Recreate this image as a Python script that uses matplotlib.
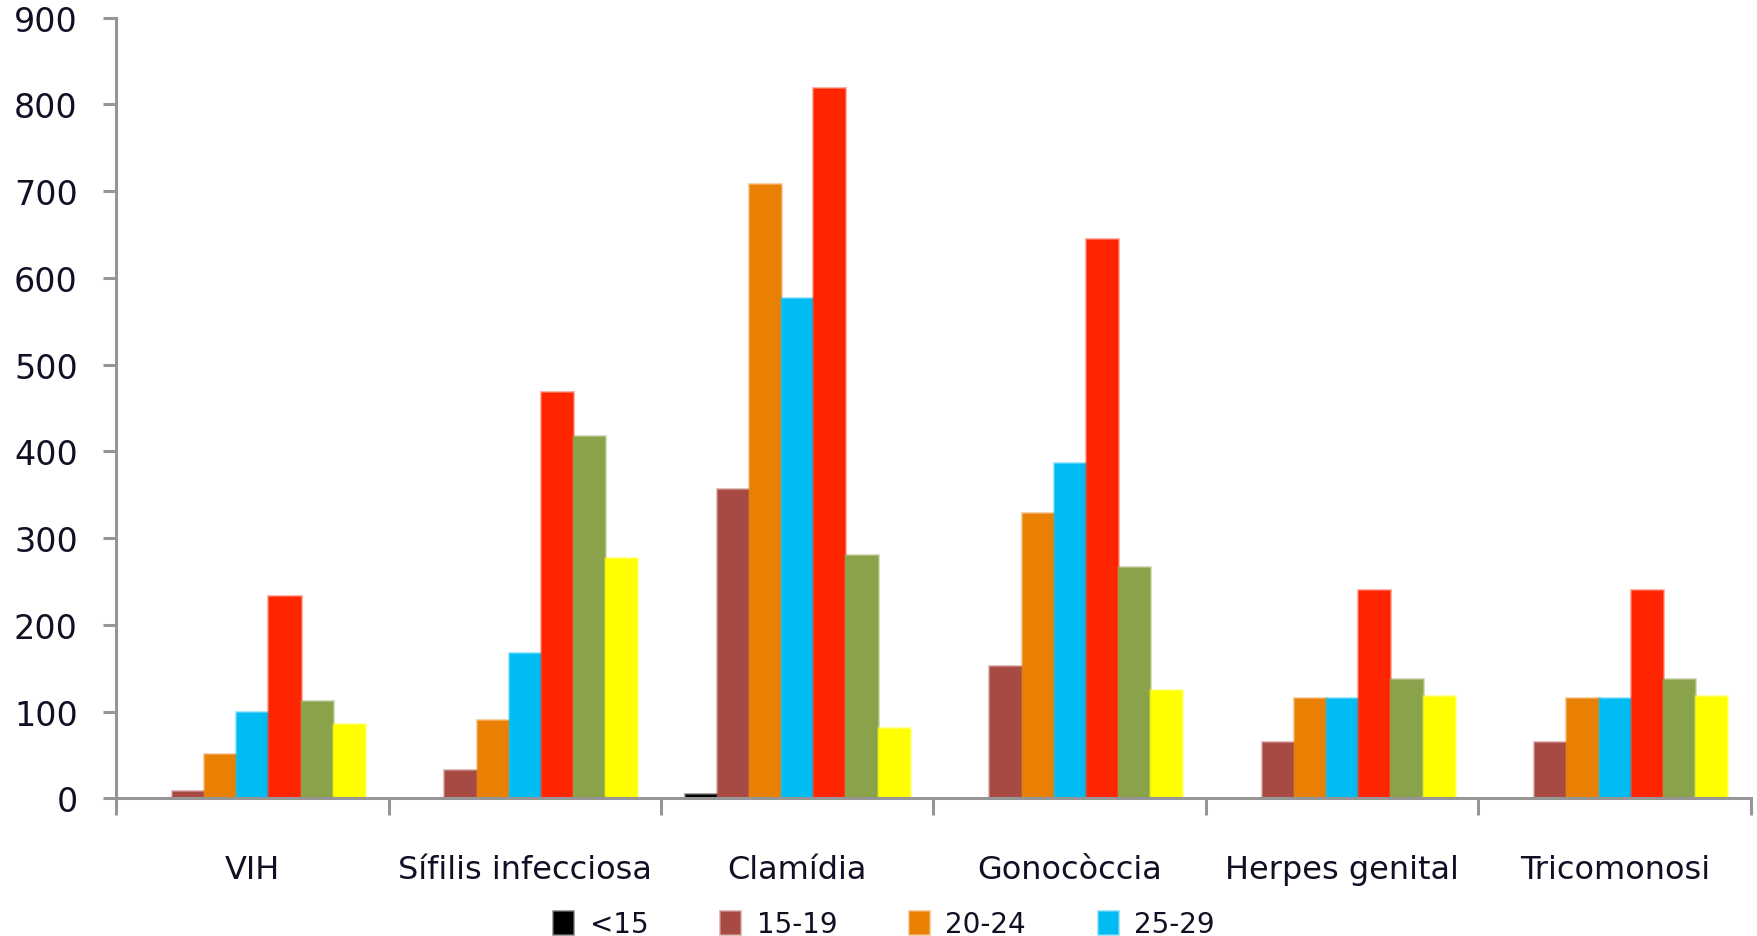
import numpy as np
import matplotlib.pyplot as plt
from matplotlib.colors import to_rgba

# Categories and age groups
malalties = ["VIH", "Sífilis infecciosa", "Clamídia", "Gonocòccia", "Herpes genital", "Tricomonosi"]
edats = ["<15", "15-19", "20-24", "25-29", "30-34", "35-39", "40+"]

# cases per age group (one list per age group, one value per disease)
menys15 = [0, 0, 5, 0, 0, 0]
e15_19 = [8, 33, 357, 153, 65, 65]
e20_24 = [51, 90, 708, 329, 116, 116]
e25_29 = [99, 167, 577, 387, 116, 116]
e30_34 = [233, 468, 819, 645, 240, 240]
e35_39 = [112, 418, 281, 267, 138, 138]
e40 = [86, 277, 81, 125, 118, 118]

series = [menys15, e15_19, e20_24, e25_29, e30_34, e35_39, e40]
colors = ["#000000", "#A84A44", "#E98003", "#00BCF2", "#FF2500", "#8AA24A", "#FFFF00"]

fig = plt.figure(figsize=(17.58, 9.37), dpi=100)
ax = fig.add_axes([0.066, 0.147, 0.93, 0.833])

x = np.arange(len(malalties))
w = 0.118
bars = []
for j, (vals, c) in enumerate(zip(series, colors)):
    b = ax.bar(x + (j - 3) * w, vals, width=w, color=c,
               edgecolor=to_rgba(c, 0.4), linewidth=2, zorder=2)
    bars.append(b)

ax.set_xlim(-0.5, 5.5)
ax.set_ylim(0, 900)
ax.set_yticks(range(0, 901, 100))

grey = "#969696"
txt = "#101025"
for s in ["top", "right"]:
    ax.spines[s].set_visible(False)
for s in ["left", "bottom"]:
    ax.spines[s].set_color(grey)
    ax.spines[s].set_linewidth(2.2)

ax.tick_params(axis="y", direction="out", length=9.5, width=2.2, color=grey,
               labelsize=24, labelcolor=txt, pad=18)
ax.set_xticks(x)
ax.set_xticklabels(malalties, fontsize=23, color=txt)
ax.tick_params(axis="x", which="major", length=0, pad=40)
ax.set_xticks(np.arange(-0.5, 5.6, 1), minor=True)
ax.tick_params(axis="x", which="minor", direction="out", length=12, width=2.2, color=grey)

# only the first row of the legend fits in the frame
fig.legend(bars[:4], edats[:4], loc="center", bbox_to_anchor=(0.503, 0.013),
           ncol=4, frameon=False, fontsize=20, handlelength=0.7, handleheight=0.9,
           columnspacing=2.6, handletextpad=0.6, labelcolor=txt)

fig.savefig("out.png", dpi=100)
